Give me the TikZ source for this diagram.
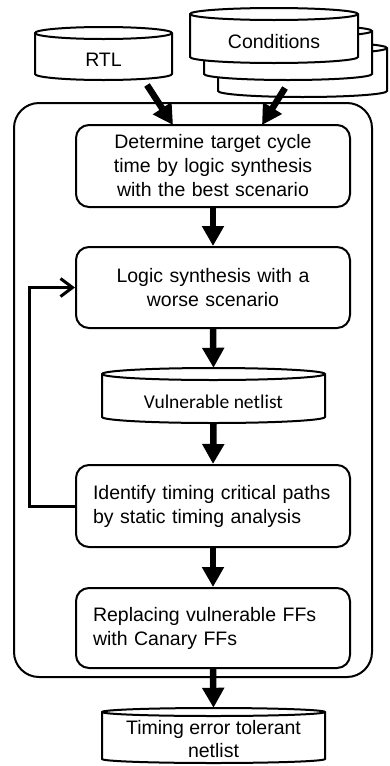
\documentclass[tikz,border=0pt]{standalone}
\usepackage{fontspec}
\setmainfont{Liberation Sans}
\newfontfamily\calibfont{Carlito}
\usetikzlibrary{arrows.meta,calc}

\tikzset{
  outline/.style={line width=2pt, draw=black},
  stepbox/.style={outline, fill=white, rounded corners=13pt, minimum width=274pt,
    text width=240pt, inner xsep=17pt, inner ysep=0pt,
    font=\fontsize{19.5}{24}\selectfont},
  cyltext/.style={inner sep=0pt, align=center, font=\fontsize{19.5}{23}\selectfont},
  flow/.style={line width=6.5pt, -{Triangle[length=20pt,width=21pt]}},
  loopback/.style={line width=3pt, -{Straight Barb[length=12pt,width=18pt]}},
}

% cylinder (database) symbol: name, left x, right x, top y, bottom y, ellipse half-height
% (y values are measured downwards)
\newcommand\dbcyl[6]{%
  \filldraw[outline, fill=white] (#2,-#4-#6) -- (#2,-#5+#6)
     arc[start angle=180, end angle=360, x radius={(#3-#2)/2*1pt}, y radius={#6*1pt}]
     -- (#3,-#4-#6)
     arc[start angle=0, end angle=180, x radius={(#3-#2)/2*1pt}, y radius={#6*1pt}] -- cycle;
  \draw[outline] (#2,-#4-#6)
     arc[start angle=180, end angle=360, x radius={(#3-#2)/2*1pt}, y radius={#6*1pt}];
  \path node[inner sep=0pt, minimum width={(#3-#2)*1pt}, minimum height={(#5-#4)*1pt}]
     (#1) at ({(#2+#3)/2},{-(#4+#5)/2}) {};
}

\begin{document}
\begin{tikzpicture}[x=1pt, y=1pt]
\useasboundingbox (0,0) rectangle (389,-766);

% enclosing frame of the flow
\node[outline, rounded corners=25pt, minimum width=358pt, minimum height=574pt, inner sep=0pt]
  (frame) at (193,-390) {};

% inputs
\dbcyl{rtl}{35}{172}{27}{80}{6}
\node[cyltext] (rtl-label) at ($(rtl.center)+(0,-6)$) {RTL};

\dbcyl{cond3}{218}{387}{42}{97}{6}
\dbcyl{cond2}{204}{372}{25}{80}{6}
\dbcyl{cond1}{190}{358}{8}{63}{6}
\node[cyltext] (cond-label) at ($(cond1.center)+(0,-6)$) {Conditions};

% process steps
\node[stepbox, align=center, minimum height=82pt] (s1) at (213,-166)
  {Determine target cycle\\time by logic synthesis\\with the best scenario};
\node[stepbox, align=center, minimum height=81pt] (s2) at (213,-287.5)
  {Logic synthesis with a\\worse scenario};
\dbcyl{vnet}{102}{325}{368}{423}{6}
\node[cyltext, font=\calibfont\fontsize{19.5}{23}\selectfont] (vnet-label)
  at ($(vnet.center)+(0,-6)$) {Vulnerable netlist};
\node[stepbox, align=left, minimum height=82pt] (s3) at (213,-506)
  {Identify timing critical paths\\by static timing analysis};
\node[stepbox, align=left, minimum height=80pt] (s4) at (213,-628)
  {Replacing vulnerable FFs\\with Canary FFs};

% output
\dbcyl{tnet}{102}{325}{708}{763}{4}
\node[cyltext] (tnet-label) at ($(tnet.center)+(0,-4)$) {Timing error tolerant\\netlist};

% connectors
\coordinate (rtl-out) at (147,-85);
\coordinate (cond-out) at (285,-88);
\coordinate (s1-in-a) at (173,-125);
\coordinate (s1-in-b) at (262,-125);
\draw[flow] (rtl-out) -- (s1-in-a);
\draw[flow] (cond-out) -- (s1-in-b);
\draw[flow] (s1.south) -- (s2.north);
\draw[flow] (s2.south) -- (vnet.north);
\draw[flow] (vnet.south) -- (s3.north);
\draw[flow] (s3.south) -- (s4.north);
\draw[flow] (s4.south) -- (tnet.north);
\draw[loopback] (s3.west) -- ++(-46,0) |- (s2.west);
\end{tikzpicture}
\end{document}
